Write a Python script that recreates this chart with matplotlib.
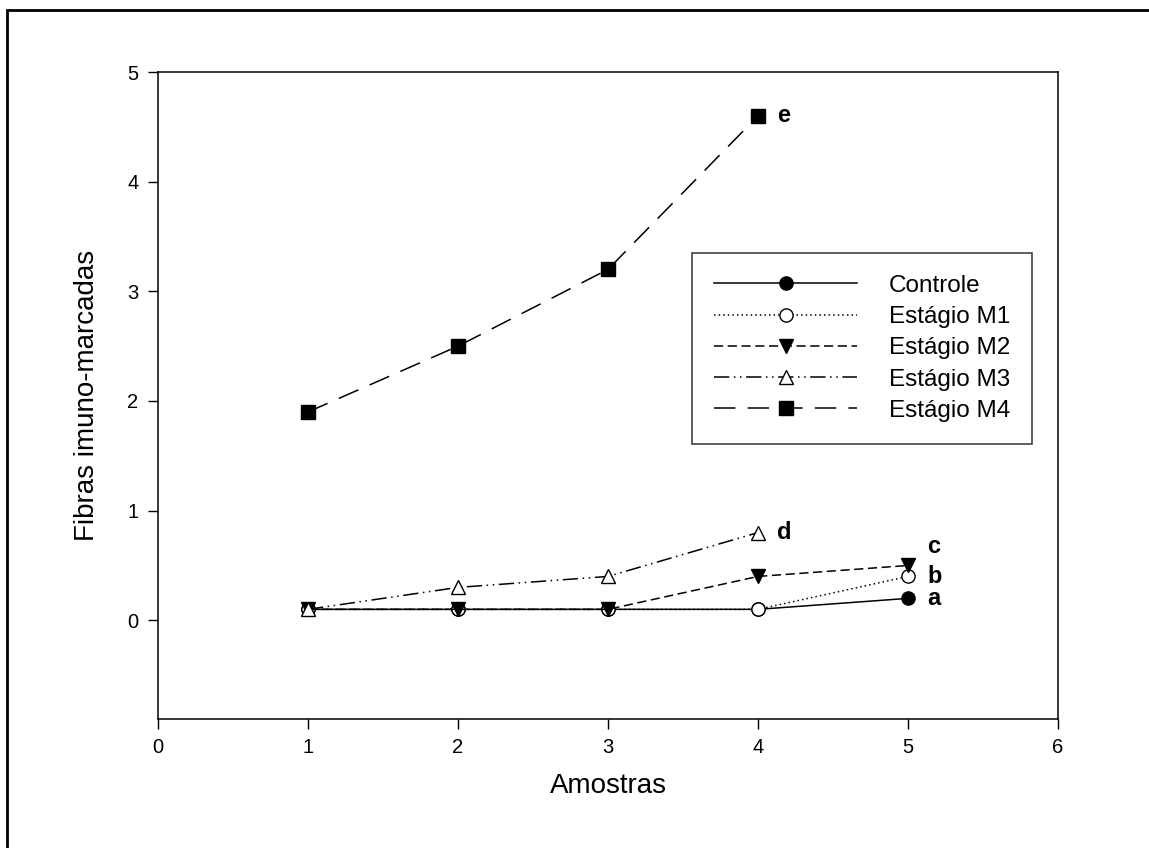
import numpy as np
import matplotlib
matplotlib.use("Agg")
import matplotlib.pyplot as plt
from matplotlib.patches import Rectangle

plt.rcParams["font.family"] = ["Liberation Sans", "DejaVu Sans"]

amostras = [1, 2, 3, 4, 5]
controle = [0.1, 0.1, 0.1, 0.1, 0.2]
m1 = [0.1, 0.1, 0.1, 0.1, 0.4]
m2 = [0.1, 0.1, 0.1, 0.4, 0.5]
amostras_m34 = [1, 2, 3, 4]
m3 = [0.1, 0.3, 0.4, 0.8]
m4 = [1.9, 2.5, 3.2, 4.6]

fig = plt.figure(figsize=(11.49, 8.48), dpi=100)
ax = fig.add_axes([158 / 1149, 1 - 719 / 848, 900 / 1149, 647 / 848])

# outer frame (cropped on the right and bottom in the original)
fig.patches.append(Rectangle((7 / 1149, -0.1), 1.2, 1 - 10 / 848 + 0.1,
                             transform=fig.transFigure, fill=False,
                             edgecolor="black", linewidth=2.0))

lw = 1.1
ax.plot(amostras, controle, label="Controle", color="black", linestyle="-",
        linewidth=lw, marker="o", markersize=9.5, markerfacecolor="black")
ax.plot(amostras, m1, label="Estágio M1", color="black", linestyle=(0, (1, 2)),
        linewidth=lw, marker="o", markersize=9.5, markerfacecolor="white")
ax.plot(amostras, m2, label="Estágio M2", color="black", linestyle=(0, (6, 3)),
        linewidth=lw, marker="v", markersize=10, markerfacecolor="black")
ax.plot(amostras_m34, m3, label="Estágio M3", color="black",
        linestyle=(0, (10, 3, 1, 3, 1, 3)), linewidth=lw, marker="^",
        markersize=10, markerfacecolor="white")
ax.plot(amostras_m34, m4, label="Estágio M4", color="black",
        linestyle=(0, (14, 8)), linewidth=lw, marker="s", markersize=10.5,
        markerfacecolor="black")

# significance letters
letras = ["a", "b", "c", "d", "e"]
pontos = [(5, controle[-1]), (5, m1[-1]), (5, m2[-1] + 0.17),
          (4, m3[-1]), (4, m4[-1])]
for letra, (px, py) in zip(letras, pontos):
    ax.annotate(letra, (px, py), xytext=(14, 0), textcoords="offset points",
                fontsize=17, fontweight="bold", ha="left", va="center")

ax.set_xlim(0, 6)
ax.set_ylim(-0.9, 5)
ax.set_xticks(range(0, 7))
ax.set_yticks(range(0, 6))
ax.tick_params(direction="out", length=7, width=1, labelsize=14.5,
               top=False, right=False, pad=7)
for s in ax.spines.values():
    s.set_linewidth(1.1)

ax.set_xlabel("Amostras", fontsize=20, labelpad=11)
ax.set_ylabel("Fibras imuno-marcadas", fontsize=20, labelpad=20)

leg = ax.legend(loc="upper left", bbox_to_anchor=((692 - 158) / 900, (719 - 253) / 647),
                fontsize=17.5, frameon=True, fancybox=False, edgecolor="black",
                handlelength=5.9, handletextpad=1.3, labelspacing=0.38,
                borderpad=0.9, borderaxespad=0)
leg.get_frame().set_linewidth(1.1)

fig.savefig("out.png", dpi=100)
